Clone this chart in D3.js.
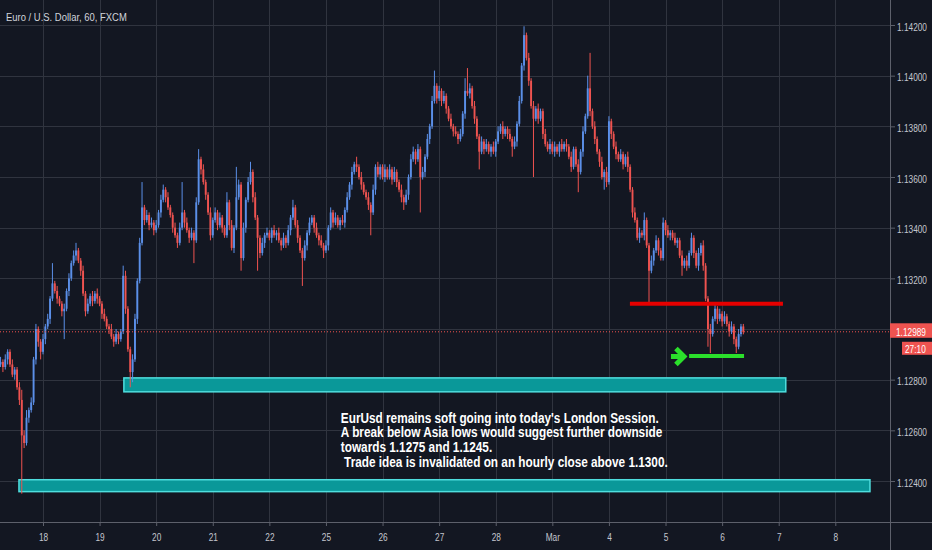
<!DOCTYPE html>
<html>
<head>
<meta charset="utf-8">
<script src="https://cdn.jsdelivr.net/npm/d3@7"></script>
<style>
html, body { margin: 0; padding: 0; background: #131722; }
svg { display: block; }
text { font-family: "Liberation Sans", Arial, sans-serif; }
</style>
</head>
<body>
<svg id="chart" width="932" height="550"></svg>
<script>
// prices are in pips above BASE (1 pip = 0.0001)
var BASE = 1.12, PIP = 0.0001;
var firstOpen = 86;

// hourly closes
var closes = [
    87, 85, 88, 91, 86, 82, 84, 77, 72, 58, 55, 65, 68, 71, 88, 100, 95, 91, 96, 101,
    104, 112, 118, 115, 112, 110, 107, 108, 115, 120, 126, 129, 131, 127, 123, 114, 107, 110, 113, 111,
    114, 112, 110, 106, 104, 101, 100, 97, 95, 98, 96, 99, 121, 108, 92, 83, 88, 104, 119, 134,
    148, 143, 145, 141, 142, 139, 141, 146, 151, 155, 152, 148, 145, 140, 137, 134, 140, 146, 142, 139,
    136, 138, 135, 150, 167, 163, 158, 153, 146, 137, 143, 146, 141, 144, 140, 137, 150, 141, 132, 140,
    152, 157, 128, 140, 151, 158, 162, 152, 144, 136, 130, 134, 137, 138, 136, 139, 137, 138, 135, 133,
    136, 134, 139, 144, 148, 141, 136, 131, 128, 133, 138, 142, 144, 140, 137, 135, 133, 131, 133, 140,
    146, 142, 144, 141, 143, 142, 147, 152, 157, 162, 165, 164, 160, 157, 154, 152, 149, 146, 155, 164,
    161, 164, 160, 163, 160, 163, 159, 162, 158, 155, 152, 150, 153, 160, 167, 170, 167, 171, 160, 162,
    168, 175, 180, 190, 196, 191, 194, 190, 192, 187, 183, 180, 178, 177, 175, 177, 185, 194, 193, 195,
    188, 183, 176, 170, 174, 171, 173, 170, 172, 170, 174, 178, 180, 177, 179, 177, 175, 172, 174, 181,
    190, 204, 216, 207, 198, 188, 183, 187, 183, 186, 177, 173, 171, 173, 170, 172, 170, 173, 171, 173,
    172, 168, 164, 171, 165, 162, 170, 178, 184, 195, 186, 180, 175, 170, 166, 160, 162, 158, 182, 177,
    172, 169, 167, 169, 165, 168, 164, 155, 146, 143, 136, 138, 137, 143, 133, 123, 127, 131, 135, 131,
    128, 142, 139, 137, 138, 136, 134, 135, 129, 125, 127, 125, 130, 136, 130, 125, 130, 133, 125, 112,
    100, 98, 104, 108, 104, 106, 103, 105, 102, 99, 101, 96, 93, 98, 101, 98.9
];

// upper / lower wick length beyond the body, in pips
var wickUp = [
    2, 1, 2, 1, 1, 2, 1, 1, 2, 4, 2, 3, 1, 2, 1, 2, 1, 1, 2, 1,
    2, 1, 8, 1, 2, 1, 1, 2, 1, 2, 1, 2, 3, 1, 1, 2, 1, 2, 1, 2,
    1, 2, 1, 1, 2, 1, 1, 2, 1, 2, 1, 1, 4, 2, 1, 1, 2, 2, 1, 2,
    10, 1, 2, 1, 2, 1, 2, 1, 2, 2, 1, 2, 1, 1, 2, 1, 2, 12, 1, 2,
    1, 2, 1, 2, 4, 1, 2, 1, 1, 2, 1, 2, 1, 2, 1, 1, 4, 1, 2, 1,
    12, 2, 1, 2, 1, 2, 4, 1, 2, 1, 1, 2, 1, 2, 1, 1, 2, 1, 2, 1,
    2, 1, 2, 1, 3, 1, 2, 1, 1, 2, 1, 2, 1, 1, 2, 1, 2, 1, 2, 1,
    2, 1, 2, 1, 1, 2, 1, 2, 1, 2, 1, 3, 1, 2, 1, 1, 2, 1, 2, 1,
    2, 1, 1, 2, 1, 2, 1, 2, 1, 1, 2, 1, 2, 1, 2, 2, 1, 2, 1, 2,
    1, 2, 1, 2, 6, 1, 2, 1, 2, 1, 1, 2, 1, 2, 1, 2, 1, 5, 9, 2,
    1, 2, 1, 1, 2, 1, 2, 1, 1, 2, 1, 2, 1, 2, 1, 1, 2, 1, 2, 1,
    2, 1, 3.5, 1, 2, 1, 2, 1, 2, 1, 1, 2, 1, 2, 1, 2, 1, 1, 2, 1,
    2, 1, 2, 1, 1, 2, 1, 2, 1, 5, 14, 1, 2, 1, 1, 2, 1, 2, 2, 1,
    1, 2, 1, 2, 1, 1, 2, 1, 1, 2, 1, 2, 1, 3, 1, 1, 2, 1, 2, 1,
    1, 2, 1, 2, 1, 1, 2, 1, 1, 2, 1, 2, 1, 2, 1, 1, 2, 1, 2, 1,
    1, 2, 1, 2, 1, 2, 1, 2, 1, 1, 2, 1, 1, 2, 1, 1
];
var wickDn = [
    1, 2, 1, 2, 1, 1, 2, 1, 2, 23, 2, 1, 2, 1, 1, 2, 2, 3, 1, 2,
    1, 2, 1, 1, 2, 1, 2, 11, 1, 2, 1, 1, 2, 1, 2, 1, 2, 1, 1, 2,
    1, 2, 1, 2, 1, 1, 2, 1, 2, 1, 2, 1, 1, 2, 1, 6, 4, 1, 2, 1,
    1, 2, 1, 2, 1, 2, 1, 1, 2, 1, 2, 1, 1, 2, 1, 2, 1, 1, 2, 1,
    2, 1, 9, 1, 1, 2, 1, 2, 1, 2, 1, 1, 2, 1, 2, 1, 1, 2, 1, 2,
    1, 1, 5, 1, 2, 1, 1, 2, 1, 13, 2, 1, 2, 1, 1, 2, 1, 2, 1, 2,
    1, 2, 1, 2, 1, 1, 2, 1, 11, 1, 2, 1, 1, 2, 1, 2, 1, 3, 1, 2,
    1, 2, 1, 1, 2, 1, 2, 1, 1, 2, 1, 2, 1, 2, 1, 1, 2, 9, 1, 2,
    1, 2, 1, 2, 1, 1, 2, 1, 2, 1, 2, 3, 1, 2, 1, 1, 2, 1, 14, 1,
    2, 1, 2, 1, 1, 2, 1, 2, 1, 2, 1, 1, 2, 1, 2, 1, 1, 2, 1, 2,
    1, 2, 1, 7, 1, 2, 1, 1, 2, 1, 2, 1, 1, 2, 1, 2, 1, 4, 1, 2,
    1, 1, 2, 1, 2, 1, 23, 1, 2, 1, 2, 1, 1, 2, 1, 2, 1, 2, 1, 1,
    2, 1, 2, 1, 1, 8, 1, 2, 1, 1, 2, 1, 2, 1, 2, 1, 5, 2, 1, 2,
    1, 2, 1, 1, 2, 1, 2, 1, 2, 1, 1, 2, 1, 2, 1, 13, 1, 2, 1, 2,
    1, 1, 2, 1, 2, 1, 1, 2, 1, 4, 1, 2, 1, 1, 2, 1, 2, 1, 2, 1,
    7, 7.5, 1, 1, 2, 1, 2, 1, 1, 2, 1, 2, 2.5, 1, 1, 1
];

var priceTicks = [1.142, 1.140, 1.138, 1.136, 1.134, 1.132, 1.130, 1.128, 1.126, 1.124];
var dayLabels = ["18", "19", "20", "21", "22", "25", "26", "27", "28", "Mar", "4", "5", "6", "7", "8"];
var barsPerDay = 24, firstDayBar = 18;

var title = "Euro / U.S. Dollar, 60, FXCM";
var lastPrice = 1.12989, countdown = "27:10";

// drawings: bar range and price levels
var zones = [
    {from: 52.3, to: 333, top: 1.12807, bottom: 1.12752},
    {from: 7.8, to: 368.7, top: 1.12405, bottom: 1.12358}
];
var resistance = {from: 266.9, to: 331.8, price: 1.1310};
var asiaLow = {from: 292, to: 315.3, price: 1.12893, arrowAt: 284.3};
var note = {bar: 144.3, price: 1.12630};
var noteLines = [
    "EurUsd remains soft going into today's London Session.",
    "A break below Asia lows would suggest further downside",
    "towards 1.1275 and 1.1245.",
    " Trade idea is invalidated on an hourly close above 1.1300."
];

var W = 932, H = 550, plotRight = 890, plotBottom = 522;
var upColor = "#5b8fe8", downColor = "#ef5350";

// squeeze text horizontally (the chart uses a narrow face)
function narrow(sel, f) {
    sel.each(function () {
        var t = d3.select(this);
        var tx = +t.attr("x") || 0, ty = +t.attr("y") || 0;
        t.attr("x", 0).attr("y", 0)
            .attr("transform", "translate(" + tx + "," + ty + ") scale(" + f + ",1)");
    });
}

var svg = d3.select("#chart");
svg.append("rect").attr("width", W).attr("height", H).attr("fill", "#131722");

var x = d3.scaleLinear().domain([18, 354]).range([43, 835.3]);
var y = d3.scaleLinear().domain([1.124, 1.142]).range([481, 25]);
function py(p) { return y(BASE + p * PIP); }

var dayBars = dayLabels.map(function (d, k) { return firstDayBar + k * barsPerDay; });

//Grid
var grid = svg.append("g").attr("shape-rendering", "crispEdges");
grid.selectAll(".hg").data(priceTicks).enter().append("line")
    .attr("x1", 0).attr("x2", plotRight)
    .attr("y1", function (d) { return Math.round(y(d)) + 0.5; })
    .attr("y2", function (d) { return Math.round(y(d)) + 0.5; })
    .attr("stroke", "#30343f");
grid.selectAll(".vg").data(dayBars).enter().append("line")
    .attr("y1", 0).attr("y2", plotBottom)
    .attr("x1", function (d) { return Math.round(x(d)) + 0.5; })
    .attr("x2", function (d) { return Math.round(x(d)) + 0.5; })
    .attr("stroke", "#30343f");

//Zones
svg.selectAll(".zone").data(zones).enter().append("rect")
    .attr("x", function (d) { return x(d.from); })
    .attr("width", function (d) { return x(d.to) - x(d.from); })
    .attr("y", function (d) { return y(d.top); })
    .attr("height", function (d) { return y(d.bottom) - y(d.top); })
    .attr("fill", "#0a9899")
    .attr("stroke", "#4fdede")
    .attr("stroke-width", 1.5);

//Candles
var candles = closes.map(function (c, i) {
    var o = i === 0 ? firstOpen : closes[i - 1];
    return {i: i, o: o, c: c, h: Math.max(o, c) + wickUp[i], l: Math.min(o, c) - wickDn[i]};
});
var cg = svg.append("g");
cg.selectAll(".wick").data(candles).enter().append("line")
    .attr("x1", function (d) { return x(d.i); })
    .attr("x2", function (d) { return x(d.i); })
    .attr("y1", function (d) { return py(d.h); })
    .attr("y2", function (d) { return py(d.l); })
    .attr("stroke", function (d) { return d.c >= d.o ? upColor : downColor; })
    .attr("stroke-width", 1);
cg.selectAll(".body").data(candles).enter().append("rect")
    .attr("x", function (d) { return x(d.i) - 0.95; })
    .attr("width", 1.9)
    .attr("y", function (d) { return py(Math.max(d.o, d.c)); })
    .attr("height", function (d) { return Math.max(1, Math.abs(py(d.o) - py(d.c))); })
    .attr("fill", function (d) { return d.c >= d.o ? upColor : downColor; });

//Resistance and Asia low lines
svg.append("line")
    .attr("x1", x(resistance.from)).attr("x2", x(resistance.to))
    .attr("y1", y(resistance.price)).attr("y2", y(resistance.price))
    .attr("stroke", "#e60000").attr("stroke-width", 4);
svg.append("line")
    .attr("x1", x(asiaLow.from)).attr("x2", x(asiaLow.to))
    .attr("y1", y(asiaLow.price)).attr("y2", y(asiaLow.price))
    .attr("stroke", "#2be02b").attr("stroke-width", 4);
var ax = x(asiaLow.arrowAt), ay = y(asiaLow.price) + 0.5;
svg.append("path")
    .attr("d", "M" + ax + "," + ay + "H" + (ax + 12) +
        "M" + (ax + 5) + "," + (ay - 8) + "L" + (ax + 13) + "," + ay + "L" + (ax + 5) + "," + (ay + 8))
    .attr("fill", "none")
    .attr("stroke", "#2be02b").attr("stroke-width", 5)
    .attr("stroke-linejoin", "miter");

//Note text
var noteText = svg.append("g").selectAll("text").data(noteLines).enter().append("text")
    .attr("x", x(note.bar))
    .attr("y", function (d, i) { return y(note.price) + i * 14.6; })
    .attr("fill", "#ffffff")
    .style("font-size", "14px")
    .style("font-weight", "bold")
    .style("white-space", "pre")
    .text(function (d) { return d; });
var noteFactor = 318 / noteText.node().getComputedTextLength();
narrow(noteText, noteFactor);

//Current price line
var yp = y(lastPrice);
svg.append("line")
    .attr("x1", 0).attr("x2", plotRight)
    .attr("y1", yp).attr("y2", yp)
    .attr("stroke", downColor).attr("stroke-width", 1)
    .attr("stroke-dasharray", "1,2");

//Axes
var yAxis = d3.axisRight(y).tickValues(priceTicks).tickFormat(d3.format(".5f"))
    .tickSize(5).tickPadding(2);
var yg = svg.append("g").attr("transform", "translate(" + plotRight + ",0)").call(yAxis);
var xAxis = d3.axisBottom(x).tickValues(dayBars)
    .tickFormat(function (d, k) { return dayLabels[k]; })
    .tickSize(4).tickPadding(8);
var xg = svg.append("g").attr("transform", "translate(0," + plotBottom + ")").call(xAxis);
[yg, xg].forEach(function (g) {
    g.select(".domain").remove();
    g.selectAll("line").attr("stroke", "#5d606b");
    g.selectAll("text").attr("fill", "#c3c6ce")
        .style("font-size", "10.5px")
        .style("font-family", "\"Liberation Sans\", Arial, sans-serif");
});
yg.selectAll("text").attr("dy", "0.5em");
var axisFactor = 30 / yg.select("text").node().getComputedTextLength();
narrow(yg.selectAll("text"), axisFactor);
narrow(xg.selectAll("text"), axisFactor);

svg.append("line").attr("x1", plotRight + 0.5).attr("x2", plotRight + 0.5)
    .attr("y1", 0).attr("y2", H).attr("stroke", "#5d606b");
svg.append("line").attr("x1", 0).attr("x2", W)
    .attr("y1", plotBottom + 0.5).attr("y2", plotBottom + 0.5).attr("stroke", "#5d606b");

//Price label and countdown
svg.append("rect").attr("x", plotRight).attr("y", yp - 8.5)
    .attr("width", W - plotRight).attr("height", 14.5).attr("fill", downColor);
var priceText = svg.append("text").attr("x", plotRight + 6).attr("y", yp + 4)
    .attr("fill", "#ffffff").style("font-size", "10.5px")
    .text(lastPrice.toFixed(5));
svg.append("rect").attr("x", 902).attr("y", yp + 10)
    .attr("width", W - 902).attr("height", 13).attr("fill", downColor);
var cdText = svg.append("text").attr("x", 905).attr("y", yp + 21)
    .attr("fill", "#ffffff").style("font-size", "10.5px")
    .text(countdown);
narrow(priceText, axisFactor);
narrow(cdText, axisFactor);

//Title
var titleText = svg.append("text").attr("x", 6).attr("y", 21)
    .attr("fill", "#d1d4dc").style("font-size", "11.5px")
    .text(title);
narrow(titleText, 121 / titleText.node().getComputedTextLength());
</script>
</body>
</html>
